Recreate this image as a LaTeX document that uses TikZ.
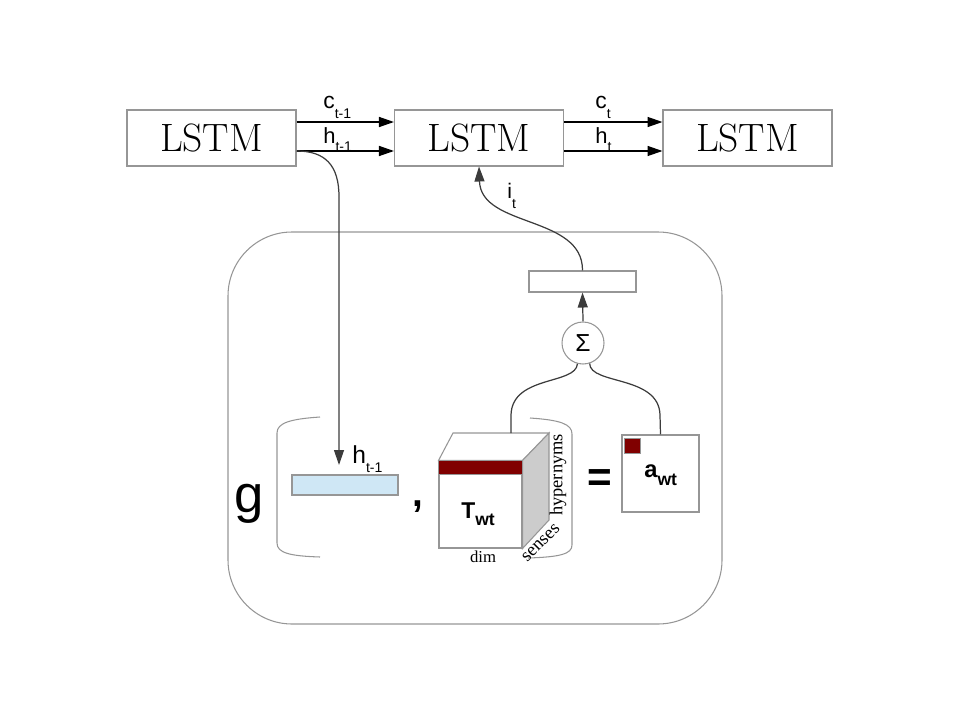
\documentclass[tikz,border=0pt]{standalone}
\usepackage{fontspec}
\usepackage{tikz}
\usetikzlibrary{arrows.meta}

\newfontfamily\labfont{Liberation Sans}
\newfontfamily\timesfont{Liberation Serif}
\newcommand{\lsub}[3]{\raisebox{-#2}{\fontsize{#1}{#1}\selectfont #3}}

\definecolor{boxgray}{RGB}{150,150,150}
\definecolor{wiregray}{RGB}{60,60,60}
\definecolor{hblue}{RGB}{207,231,245}
\definecolor{sidegray}{RGB}{204,204,204}
\definecolor{wtred}{RGB}{128,0,0}

\begin{document}
\begin{tikzpicture}[x=0.02cm,y=-0.02cm,
    lstm/.style={draw=boxgray,line width=0.6pt,minimum width=3.38cm,minimum height=1.12cm,inner sep=0pt,font=\fontsize{22.5}{22.5}\selectfont},
    arr/.style={-{Triangle[length=0.3cm,width=0.2cm]}},
    wire/.style={draw=wiregray,line width=0.7pt},
    lab/.style={inner sep=0pt,anchor=base west},
    vec/.style={draw=boxgray,line width=0.6pt,inner sep=0pt}]

    \useasboundingbox (0,0) rectangle (960,720);

    % LSTM chain
    \node[lstm] (lstm1) at (211.5,138) {LSTM};
    \node[lstm] (lstm2) at (479,138) {LSTM};
    \node[lstm] (lstm3) at (747.5,138) {LSTM};

    \draw[arr,line width=0.8pt] ([yshift=0.32cm]lstm1.east) -- ([yshift=0.32cm]lstm2.west);
    \draw[arr,line width=0.8pt] ([yshift=-0.26cm]lstm1.east) -- ([yshift=-0.26cm]lstm2.west);
    \draw[arr,line width=0.8pt] ([yshift=0.32cm]lstm2.east) -- ([yshift=0.32cm]lstm3.west);
    \draw[arr,line width=0.8pt] ([yshift=-0.26cm]lstm2.east) -- ([yshift=-0.26cm]lstm3.west);

    \node[lab,font=\labfont\fontsize{13}{13}\selectfont] (cprev) at (323,108) {c\lsub{8}{6pt}{t-1}};
    \node[lab,font=\labfont\fontsize{12.5}{12.5}\selectfont] (hprev) at (323,143) {h\lsub{8}{5pt}{t-1}};
    \node[lab,font=\labfont\fontsize{13}{13}\selectfont] (ccur) at (595,108) {c\lsub{8}{6pt}{t}};
    \node[lab,font=\labfont\fontsize{12.5}{12.5}\selectfont] (hcur) at (595,143) {h\lsub{8}{5pt}{t}};

    % attention block
    \draw[boxgray,line width=0.6pt,rounded corners=1.28cm] (228,232) rectangle (722,624);

    \node[vec,fill=hblue,minimum width=2.12cm,minimum height=0.4cm] (hbar) at (345,485) {};
    \node[vec,minimum width=2.14cm,minimum height=0.42cm] (ibar) at (582.5,281.5) {};
    \node[vec,circle,minimum size=0.84cm,font=\labfont\fontsize{14}{14}\selectfont] (sum) at (583,343) {Σ};
    \node[vec,minimum size=1.54cm] (awt) at (660.5,473.5) {};
    \draw[boxgray,fill=wtred] (624,438) rectangle (640,453);

    % cube
    \node[vec,fill=white,minimum width=1.66cm,minimum height=1.74cm] (twt) at (480.5,504.5) {};
    \draw[boxgray,line width=0.6pt,fill=white] (twt.north west) -- (453,433) -- (549,433) -- (twt.north east) -- cycle;
    \draw[boxgray,line width=0.6pt,fill=sidegray] (twt.north east) -- (549,433) -- (549,520) -- (twt.south east) -- cycle;
    \draw[boxgray,fill=wtred] (twt.north west) rectangle ([yshift=-0.28cm]twt.north east);

    % brackets
    \draw[boxgray,line width=0.6pt] (320,417) .. controls (290,419) and (277,423) .. (277,433) -- (277,543) .. controls (277,553) and (290,556) .. (320,557);
    \draw[boxgray,line width=0.6pt] (530,418) .. controls (560,420) and (572,424) .. (572,434) -- (572,545) .. controls (572,554) and (560,557) .. (528,558);

    \coordinate (hin) at (339,465);
    \coordinate (ctop) at (511,433);

    \draw[wire,arr] ([yshift=-0.26cm]lstm1.east) .. controls (325,151) and (339,165) .. (339,197) -- (hin);
    \draw[wire,arr] (ibar.north) .. controls (583,215) and (481,228) .. (lstm2.south);
    \draw[wire,arr] (sum.north) -- (ibar.south);
    \draw[wire] (sum.-105) .. controls (576,385) and (512,375) .. (511,415) -- (ctop);
    \draw[wire] (sum.-72) .. controls (590,385) and (659,375) .. (660,415) -- (awt.north);

    % texts
    \node[lab,font=\labfont\fontsize{14}{14}\selectfont] (hlab) at (352,463) {h\lsub{8}{5.5pt}{t-1}};
    \node[lab,font=\labfont\fontsize{12}{12}\selectfont] (ilab) at (507,198) {i\lsub{8}{6pt}{t}};
    \node[lab,font=\labfont\fontsize{30}{30}\selectfont] (g) at (234,512) {g};
    \node[lab,font=\labfont\bfseries\fontsize{22}{22}\selectfont] (comma) at (412,506) {,};
    \node[inner sep=0pt,font=\labfont\bfseries\fontsize{24}{24}\selectfont] (eq) at (599.5,481) {=};
    \node[lab,font=\labfont\bfseries\fontsize{13}{13}\selectfont] (tlab) at (461,518) {T\lsub{10}{4.5pt}{wt}};
    \node[lab,font=\labfont\bfseries\fontsize{13.5}{13.5}\selectfont] (alab) at (644,477) {a\lsub{10}{5pt}{wt}};
    \node[inner sep=0pt,font=\timesfont\fontsize{9.5}{9.5}\selectfont] (dim) at (483,557) {dim};
    \node[inner sep=0pt,rotate=90,font=\timesfont\fontsize{10.5}{10.5}\selectfont] (hyp) at (558,475) {hypernyms};
    \node[inner sep=0pt,rotate=45,font=\timesfont\fontsize{10.5}{10.5}\selectfont] (sen) at (541,543) {senses};

\end{tikzpicture}
\end{document}
